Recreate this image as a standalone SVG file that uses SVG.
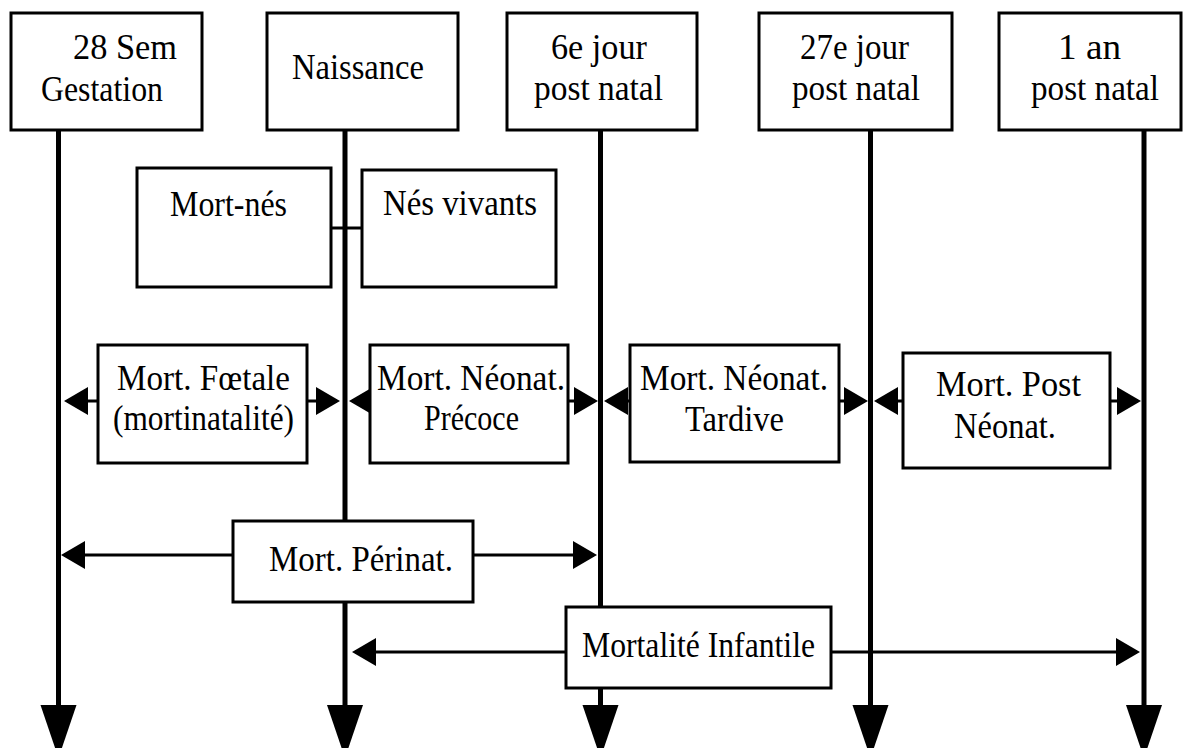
<svg xmlns="http://www.w3.org/2000/svg" width="1184" height="748" viewBox="0 0 1184 748">
<style>
.box{fill:#fff;stroke:#000;stroke-width:3}
.axis{stroke:#000;stroke-width:5;fill:none}
.conn{stroke:#000;stroke-width:3;fill:none}
text{font-family:"Liberation Serif","Times New Roman",serif;font-size:35px;fill:#000}
</style>
<defs>
<marker id="ah" markerUnits="userSpaceOnUse" markerWidth="26" markerHeight="30" refX="21" refY="14" orient="auto">
<path d="M0,0 L24,14 L0,28 z" fill="#000"/>
</marker>
<marker id="big" markerUnits="userSpaceOnUse" markerWidth="56" markerHeight="38" refX="45" refY="18" orient="auto">
<path d="M0,0 L53,18 L0,36 z" fill="#000"/>
</marker>
</defs>
<rect width="1184" height="748" fill="#fff"/>
<g id="connectors">
<line class="axis" x1="58.5" y1="130" x2="58.5" y2="750" marker-end="url(#big)"/>
<line class="axis" x1="345" y1="130" x2="345" y2="750" marker-end="url(#big)"/>
<line class="axis" x1="600.5" y1="130" x2="600.5" y2="750" marker-end="url(#big)"/>
<line class="axis" x1="870.5" y1="130" x2="870.5" y2="750" marker-end="url(#big)"/>
<line class="axis" x1="1144" y1="130" x2="1144" y2="750" marker-end="url(#big)"/>
<line class="conn" x1="331" y1="228" x2="362" y2="228"/>
<line class="conn" x1="98" y1="401" x2="67" y2="401" marker-end="url(#ah)"/>
<line class="conn" x1="307" y1="401" x2="337" y2="401" marker-end="url(#ah)"/>
<line class="conn" x1="370" y1="401" x2="352" y2="401" marker-end="url(#ah)"/>
<line class="conn" x1="568" y1="401" x2="595" y2="401" marker-end="url(#ah)"/>
<line class="conn" x1="630" y1="401" x2="607" y2="401" marker-end="url(#ah)"/>
<line class="conn" x1="839" y1="401" x2="865" y2="401" marker-end="url(#ah)"/>
<line class="conn" x1="903" y1="401" x2="877" y2="401" marker-end="url(#ah)"/>
<line class="conn" x1="1110" y1="401" x2="1138" y2="401" marker-end="url(#ah)"/>
<line class="conn" x1="233" y1="555" x2="64" y2="555" marker-end="url(#ah)"/>
<line class="conn" x1="473" y1="555" x2="594" y2="555" marker-end="url(#ah)"/>
<line class="conn" x1="566" y1="652" x2="355" y2="652" marker-end="url(#ah)"/>
<line class="conn" x1="831" y1="652" x2="1137" y2="652" marker-end="url(#ah)"/>
</g>
<g id="n-28sem"><rect class="box" x="11" y="13" width="191" height="117"/>
<text x="73" y="59" textLength="104" lengthAdjust="spacingAndGlyphs">28 Sem</text>
<text x="41" y="101" textLength="122" lengthAdjust="spacingAndGlyphs">Gestation</text></g>
<g id="n-naissance"><rect class="box" x="267" y="13" width="191" height="117"/>
<text x="292" y="79" textLength="132" lengthAdjust="spacingAndGlyphs">Naissance</text></g>
<g id="n-6e"><rect class="box" x="507" y="13" width="190" height="117"/>
<text x="551" y="59" textLength="96" lengthAdjust="spacingAndGlyphs">6e jour</text>
<text x="534" y="100" textLength="129" lengthAdjust="spacingAndGlyphs">post natal</text></g>
<g id="n-27e"><rect class="box" x="759" y="13" width="193" height="117"/>
<text x="800" y="59" textLength="109" lengthAdjust="spacingAndGlyphs">27e jour</text>
<text x="792" y="100" textLength="128" lengthAdjust="spacingAndGlyphs">post natal</text></g>
<g id="n-1an"><rect class="box" x="999" y="13" width="182" height="117"/>
<text x="1058" y="59" textLength="63" lengthAdjust="spacingAndGlyphs">1 an</text>
<text x="1031" y="100" textLength="128" lengthAdjust="spacingAndGlyphs">post natal</text></g>
<g id="n-mortnes"><rect class="box" x="137" y="168" width="194" height="119"/>
<text x="170" y="216" textLength="117" lengthAdjust="spacingAndGlyphs">Mort-nés</text></g>
<g id="n-nesvivants"><rect class="box" x="362" y="170" width="194" height="117"/>
<text x="383" y="215" textLength="154" lengthAdjust="spacingAndGlyphs">Nés vivants</text></g>
<g id="n-foetale"><rect class="box" x="98" y="345" width="209" height="118"/>
<text x="117" y="390" textLength="173" lengthAdjust="spacingAndGlyphs">Mort. Fœtale</text>
<text x="113" y="430" textLength="181" lengthAdjust="spacingAndGlyphs">(mortinatalité)</text></g>
<g id="n-precoce"><rect class="box" x="370" y="345" width="198" height="118"/>
<text x="377" y="390" textLength="188" lengthAdjust="spacingAndGlyphs">Mort. Néonat.</text>
<text x="424" y="430" textLength="95" lengthAdjust="spacingAndGlyphs">Précoce</text></g>
<g id="n-tardive"><rect class="box" x="630" y="345" width="209" height="117"/>
<text x="640" y="390" textLength="188" lengthAdjust="spacingAndGlyphs">Mort. Néonat.</text>
<text x="685" y="431" textLength="99" lengthAdjust="spacingAndGlyphs">Tardive</text></g>
<g id="n-postneonat"><rect class="box" x="903" y="353" width="207" height="115"/>
<text x="936" y="396" textLength="145" lengthAdjust="spacingAndGlyphs">Mort. Post</text>
<text x="954" y="438" textLength="102" lengthAdjust="spacingAndGlyphs">Néonat.</text></g>
<g id="n-perinat"><rect class="box" x="233" y="521" width="240" height="81"/>
<text x="269" y="571" textLength="184" lengthAdjust="spacingAndGlyphs">Mort. Périnat.</text></g>
<g id="n-infantile"><rect class="box" x="566" y="607" width="265" height="81"/>
<text x="582" y="657" textLength="233" lengthAdjust="spacingAndGlyphs">Mortalité Infantile</text></g>
</svg>
